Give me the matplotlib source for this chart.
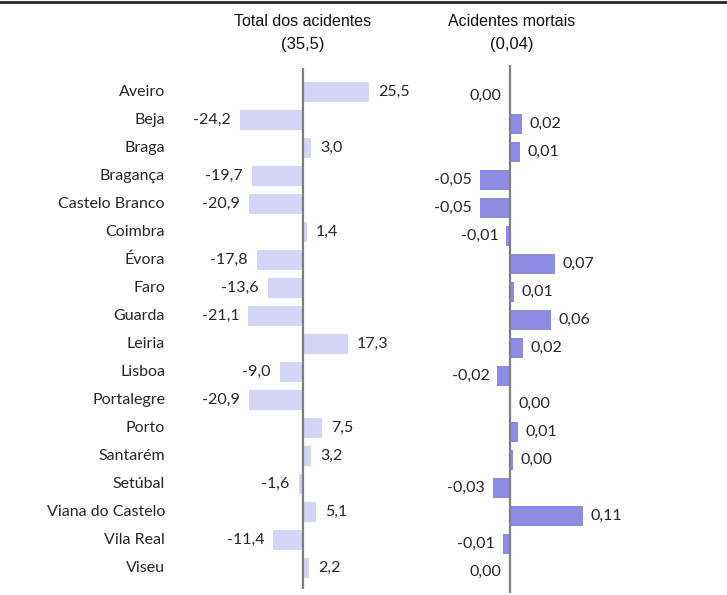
import matplotlib
matplotlib.use("Agg")
import matplotlib.pyplot as plt
from matplotlib.lines import Line2D

# districts (rows, top to bottom)
districts = ["Aveiro", "Beja", "Braga", "Bragança", "Castelo Branco", "Coimbra",
             "Évora", "Faro", "Guarda", "Leiria", "Lisboa", "Portalegre", "Porto",
             "Santarém", "Setúbal", "Viana do Castelo", "Vila Real", "Viseu"]

# deviation from national value, total accidents (national = 35,5)
total_acid = [25.5, -24.2, 3.0, -19.7, -20.9, 1.4, -17.8, -13.6, -21.1, 17.3,
              -9.0, -20.9, 7.5, 3.2, -1.6, 5.1, -11.4, 2.2]

# deviation from national value, fatal accidents (national = 0,04)
mortais = [-0.001, 0.018, 0.015, -0.046, -0.046, -0.006, 0.068, 0.006, 0.062, 0.019,
           -0.019, 0.002, 0.012, 0.004, -0.026, 0.110, -0.011, -0.002]

titles = ["Total dos acidentes", "Acidentes mortais"]
nat_values = ["(35,5)", "(0,04)"]

W, H = 727, 595
fig = plt.figure(figsize=(W / 100, H / 100), dpi=100)

lab_font = "Lato"
tit_font = "Liberation Sans"


def px_axes(x0, x1, y0, y1):
    return fig.add_axes([x0 / W, 1 - y1 / H, (x1 - x0) / W, (y1 - y0) / H])


def fmt(v, dec):
    s = f"{v:.{dec}f}"
    if float(s) == 0:
        s = s.lstrip("-")
    return s.replace(".", ",")


def draw_panel(ax, vals, color, dec, xlim, ylim, gap):
    ypos = range(len(vals))
    ax.barh(ypos, vals, height=0.72, color=color)
    ax.axvline(0, color="#7f7f7f", lw=1.6)
    for y, v in zip(ypos, vals):
        if v >= 0:
            ax.annotate(fmt(v, dec), (v, y), xytext=(gap, 0), textcoords="offset points",
                        ha="left", va="center", fontsize=11.5, family=lab_font, color="#262626")
        else:
            ax.annotate(fmt(v, dec), (v, y), xytext=(-gap, 0), textcoords="offset points",
                        ha="right", va="center", fontsize=11.5, family=lab_font, color="#262626")
    ax.set_xlim(*xlim)
    ax.set_ylim(*ylim)
    ax.axis("off")


# left panel: zero line at x=303 px, 2.59 px per unit
ax1 = px_axes(180, 440, 68, 589)
draw_panel(ax1, total_acid, "#d4d4f6", 1,
           ((180 - 303) / 2.59, (440 - 303) / 2.59),
           ((589 - 92) / 28, -(92 - 68) / 28), 6.5)

# right panel: zero line at x=510 px, 663 px per unit, rows 4 px lower
ax2 = px_axes(440, 680, 65, 593)
draw_panel(ax2, mortais, "#8c8ce4", 2,
           ((440 - 510) / 663, (680 - 510) / 663),
           ((593 - 96) / 28, -(96 - 65) / 28), 5.5)

# row labels
for i, name in enumerate(districts):
    fig.text(165 / W, 1 - (92 + 28 * i) / H, name, ha="right", va="center",
             fontsize=11.5, family=lab_font, color="#262626")

# panel titles
for xc, t, n in zip([303, 512], titles, nat_values):
    fig.text(xc / W, 1 - 22 / H, t, ha="center", va="center", fontsize=11.5,
             family=tit_font, color="#111111")
    fig.text(xc / W, 1 - 45 / H, n, ha="center", va="center", fontsize=12,
             family=tit_font, color="#111111")

# top border
fig.add_artist(Line2D([0, 1], [1 - 1.5 / H, 1 - 1.5 / H], transform=fig.transFigure,
                      color="#333333", lw=2.2))

fig.savefig("out.png", dpi=100)
